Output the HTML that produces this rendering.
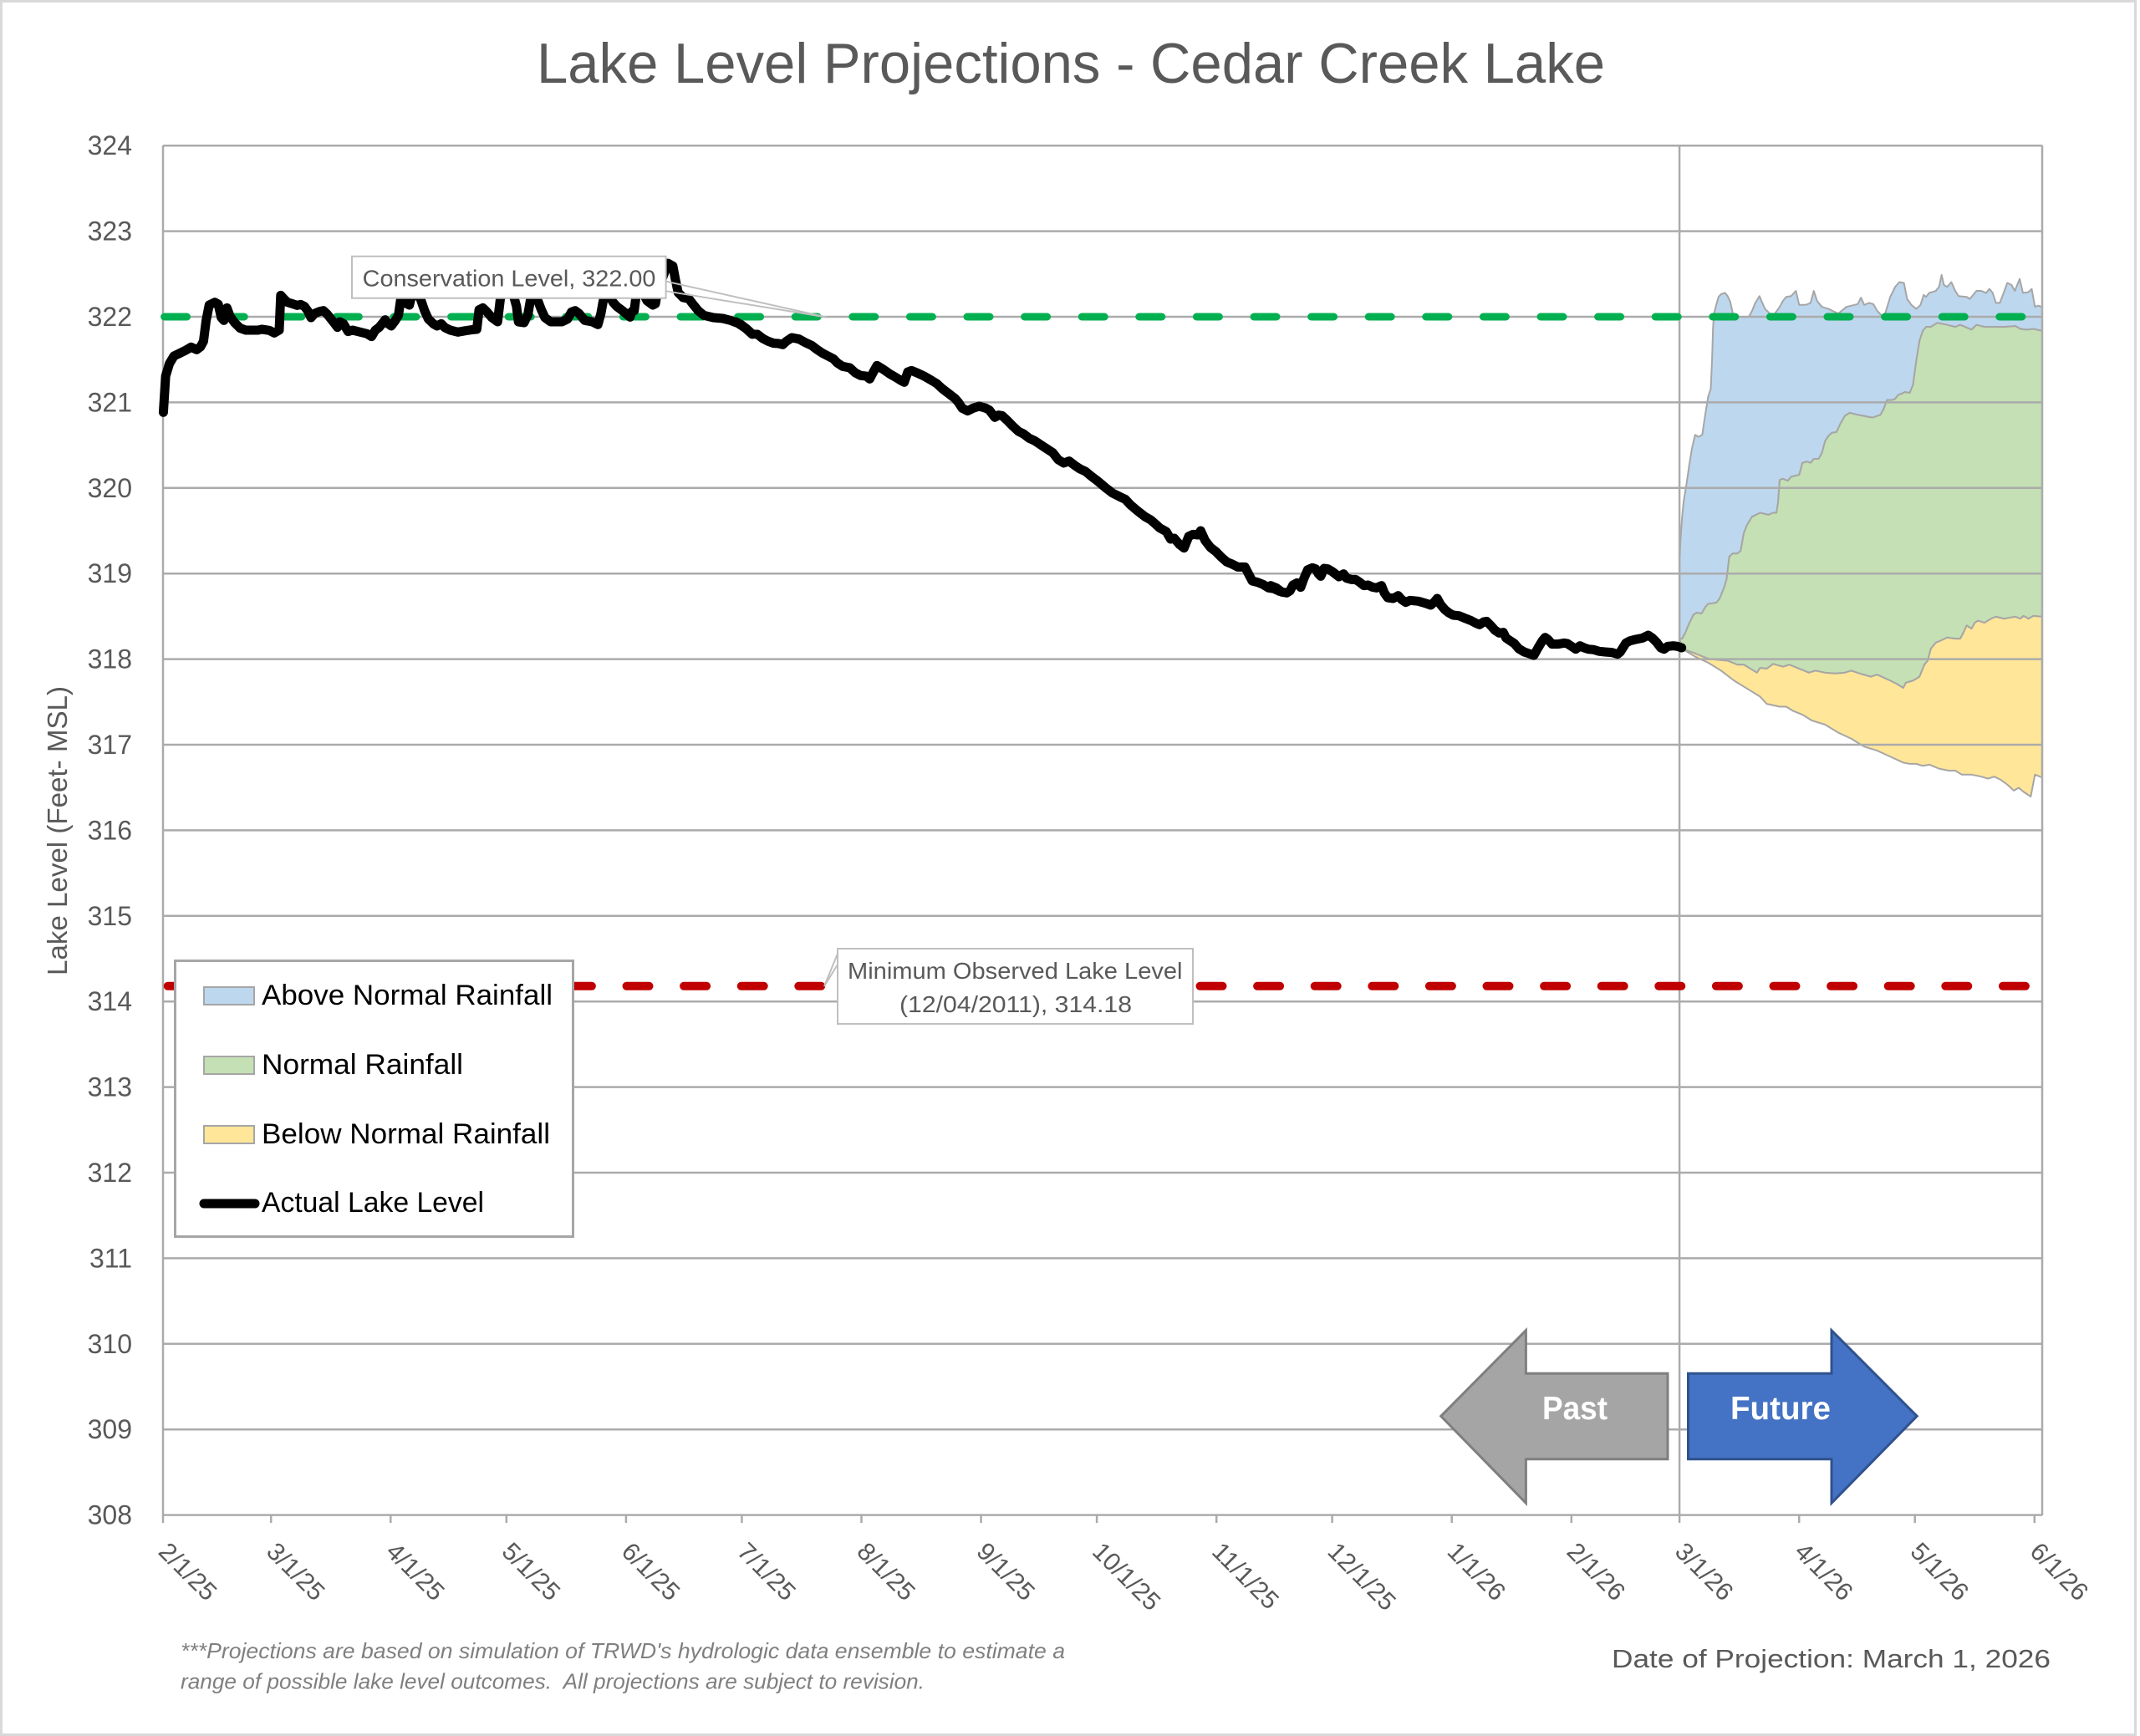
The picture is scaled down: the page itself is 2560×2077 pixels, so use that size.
<!DOCTYPE html>
<html><head><meta charset="utf-8"><style>html,body{margin:0;padding:0;background:#fff}svg{display:block}</style></head>
<body>
<svg width="2560" height="2077" viewBox="0 0 2560 2077" xmlns="http://www.w3.org/2000/svg" font-family="'Liberation Sans', Arial, sans-serif">
<rect x="0" y="0" width="2560" height="2077" fill="#fff"/>
<rect x="1.5" y="1.5" width="2553" height="2074" fill="none" stroke="#d9d9d9" stroke-width="3"/>

<!-- Title -->
<text x="642" y="99" font-size="68" fill="#595959" textLength="1278" lengthAdjust="spacingAndGlyphs">Lake Level Projections - Cedar Creek Lake</text>

<!-- Projection areas -->
<g transform="translate(1950,250) scale(0.38903,0.4783)">
<path vector-effect="non-scaling-stroke" fill="#bdd7ee" stroke="#a6a6a6" stroke-width="2" stroke-linejoin="round" d="M152,885 L155,830 160,770 165,730 175,680 182,640 190,600 200,565 210,570 222,565 230,520 240,470 248,450 252,380 255,300 258,262 265,240 272,220 280,213 292,210 300,218 308,232 315,258 320,270 365,270 375,255 385,235 398,218 405,232 415,250 430,262 445,262 460,245 470,230 480,220 495,218 510,205 520,240 540,240 555,235 565,205 575,230 590,245 610,250 640,262 665,245 690,240 700,238 710,222 720,240 735,235 748,238 760,255 775,268 785,260 800,220 815,195 828,183 842,185 852,225 865,240 880,250 893,240 903,215 910,220 920,210 940,205 950,195 958,165 965,190 975,195 988,183 1000,205 1010,218 1035,220 1045,225 1065,205 1080,205 1095,210 1105,200 1115,210 1125,235 1137,235 1145,218 1160,185 1173,190 1183,205 1198,175 1208,210 1225,208 1235,200 1245,245 1255,242 1267,245 L1267,305 1240,300 1220,302 1200,300 1185,293 1150,295 1120,295 1090,295 1065,290 1050,302 1030,295 1015,290 1000,295 975,290 945,285 935,290 925,295 910,295 900,305 890,330 880,380 870,440 860,460 845,458 835,462 825,465 815,475 805,478 790,478 780,500 770,515 745,522 720,518 700,515 675,510 660,518 645,540 635,558 620,560 610,568 600,580 590,610 580,625 565,625 555,635 545,632 530,635 520,665 495,670 485,680 470,675 460,678 455,735 450,760 440,760 425,765 400,760 375,770 360,790 350,810 340,855 330,862 315,862 305,870 297,925 290,945 275,975 265,985 240,988 232,995 220,1012 205,1010 195,1015 180,1040 170,1060 160,1075 152,1075 Z"/>
<path vector-effect="non-scaling-stroke" fill="#c5e0b4" stroke="#a6a6a6" stroke-width="2" stroke-linejoin="round" d="M152,1075 L160,1075 170,1060 180,1040 195,1015 205,1010 220,1012 232,995 240,988 265,985 275,975 290,945 297,925 305,870 315,862 330,862 340,855 350,810 360,790 375,770 400,760 425,765 440,760 450,760 455,735 460,678 470,675 485,680 495,670 520,665 530,635 545,632 555,635 565,625 580,625 590,610 600,580 610,568 620,560 635,558 645,540 660,518 675,510 700,515 720,518 745,522 770,515 780,500 790,478 805,478 815,475 825,465 835,462 845,458 860,460 870,440 880,380 890,330 900,305 910,295 925,295 935,290 945,285 975,290 1000,295 1015,290 1030,295 1050,302 1065,290 1090,295 1120,295 1150,295 1185,293 1200,300 1220,302 1240,300 1267,305 L1267,1020 1240,1018 1225,1025 1210,1018 1200,1025 1185,1020 1170,1022 1150,1025 1125,1020 1110,1025 1090,1035 1070,1030 1060,1035 1050,1050 1035,1042 1025,1060 1015,1075 1000,1075 975,1072 960,1078 940,1085 925,1100 915,1130 905,1140 890,1170 870,1180 848,1185 840,1198 820,1188 800,1180 760,1165 740,1170 710,1163 680,1155 660,1160 630,1162 600,1160 570,1155 550,1160 520,1150 490,1140 470,1145 440,1138 420,1150 400,1148 390,1160 350,1140 330,1140 300,1130 270,1128 240,1125 200,1112 160,1100 Z"/>
<path vector-effect="non-scaling-stroke" fill="#ffe699" stroke="#a6a6a6" stroke-width="2" stroke-linejoin="round" d="M160,1100 L200,1112 240,1125 270,1128 300,1130 330,1140 350,1140 390,1160 400,1148 420,1150 440,1138 470,1145 490,1140 520,1150 550,1160 570,1155 600,1160 630,1162 660,1160 680,1155 710,1163 740,1170 760,1165 800,1180 820,1188 840,1198 848,1185 870,1180 890,1170 905,1140 915,1130 925,1100 940,1085 960,1078 975,1072 1000,1075 1015,1075 1025,1060 1035,1042 1050,1050 1060,1035 1070,1030 1090,1035 1110,1025 1125,1020 1150,1025 1170,1022 1185,1020 1200,1025 1210,1018 1225,1025 1240,1018 1267,1020 L1267,1422 1245,1415 1232,1470 1210,1458 1195,1448 1180,1455 1160,1440 1140,1428 1120,1420 1100,1425 1080,1420 1050,1415 1020,1415 1000,1405 980,1405 950,1400 920,1390 900,1393 880,1388 860,1388 840,1385 800,1370 760,1355 720,1345 680,1325 640,1310 600,1290 560,1280 530,1265 500,1255 480,1245 460,1245 420,1238 400,1220 360,1200 320,1180 280,1155 240,1135 200,1120 160,1100 Z"/>
</g>

<!-- Gridlines -->
<g stroke="#ababab" stroke-width="2.5">
<line x1="195" y1="174.2" x2="2443" y2="174.2"/>
<line x1="195" y1="276.6" x2="2443" y2="276.6"/>
<line x1="195" y1="379" x2="2443" y2="379"/>
<line x1="195" y1="481.4" x2="2443" y2="481.4"/>
<line x1="195" y1="583.8" x2="2443" y2="583.8"/>
<line x1="195" y1="686.2" x2="2443" y2="686.2"/>
<line x1="195" y1="788.6" x2="2443" y2="788.6"/>
<line x1="195" y1="891" x2="2443" y2="891"/>
<line x1="195" y1="993.4" x2="2443" y2="993.4"/>
<line x1="195" y1="1095.8" x2="2443" y2="1095.8"/>
<line x1="195" y1="1198.2" x2="2443" y2="1198.2"/>
<line x1="195" y1="1300.6" x2="2443" y2="1300.6"/>
<line x1="195" y1="1403" x2="2443" y2="1403"/>
<line x1="195" y1="1505.4" x2="2443" y2="1505.4"/>
<line x1="195" y1="1607.8" x2="2443" y2="1607.8"/>
<line x1="195" y1="1710.2" x2="2443" y2="1710.2"/>
<line x1="195" y1="1812.6" x2="2443" y2="1812.6"/>
<line x1="195" y1="174" x2="195" y2="1822"/>
<line x1="2443" y1="174" x2="2443" y2="1813"/>
<line x1="2009.1" y1="174" x2="2009.1" y2="1822"/>
<line x1="324.2" y1="1812" x2="324.2" y2="1822"/>
<line x1="467.3" y1="1812" x2="467.3" y2="1822"/>
<line x1="605.8" y1="1812" x2="605.8" y2="1822"/>
<line x1="748.9" y1="1812" x2="748.9" y2="1822"/>
<line x1="887.4" y1="1812" x2="887.4" y2="1822"/>
<line x1="1030.5" y1="1812" x2="1030.5" y2="1822"/>
<line x1="1173.6" y1="1812" x2="1173.6" y2="1822"/>
<line x1="1312.1" y1="1812" x2="1312.1" y2="1822"/>
<line x1="1455.2" y1="1812" x2="1455.2" y2="1822"/>
<line x1="1593.6" y1="1812" x2="1593.6" y2="1822"/>
<line x1="1736.7" y1="1812" x2="1736.7" y2="1822"/>
<line x1="1879.8" y1="1812" x2="1879.8" y2="1822"/>
<line x1="2152.2" y1="1812" x2="2152.2" y2="1822"/>
<line x1="2290.7" y1="1812" x2="2290.7" y2="1822"/>
<line x1="2433.8" y1="1812" x2="2433.8" y2="1822"/>
</g>

<!-- Y tick labels -->
<g font-size="32" fill="#595959" text-anchor="end">
<text x="158" y="185.2">324</text>
<text x="158" y="287.6">323</text>
<text x="158" y="390">322</text>
<text x="158" y="492.4">321</text>
<text x="158" y="594.8">320</text>
<text x="158" y="697.2">319</text>
<text x="158" y="799.6">318</text>
<text x="158" y="902">317</text>
<text x="158" y="1004.4">316</text>
<text x="158" y="1106.8">315</text>
<text x="158" y="1209.2">314</text>
<text x="158" y="1311.6">313</text>
<text x="158" y="1414">312</text>
<text x="158" y="1516.4">311</text>
<text x="158" y="1618.8">310</text>
<text x="158" y="1721.2">309</text>
<text x="158" y="1823.6">308</text>
</g>

<text transform="translate(80,994) rotate(-90)" text-anchor="middle" font-size="33" fill="#595959" textLength="346" lengthAdjust="spacingAndGlyphs">Lake Level (Feet- MSL)</text>

<!-- X tick labels -->
<g font-size="30" fill="#595959">
<text transform="translate(188,1858) rotate(45)">2/1/25</text>
<text transform="translate(317.2,1858) rotate(45)">3/1/25</text>
<text transform="translate(460.3,1858) rotate(45)">4/1/25</text>
<text transform="translate(598.8,1858) rotate(45)">5/1/25</text>
<text transform="translate(741.9,1858) rotate(45)">6/1/25</text>
<text transform="translate(880.4,1858) rotate(45)">7/1/25</text>
<text transform="translate(1023.5,1858) rotate(45)">8/1/25</text>
<text transform="translate(1166.6,1858) rotate(45)">9/1/25</text>
<text transform="translate(1305.1,1858) rotate(45)">10/1/25</text>
<text transform="translate(1448.2,1858) rotate(45)">11/1/25</text>
<text transform="translate(1586.6,1858) rotate(45)">12/1/25</text>
<text transform="translate(1729.7,1858) rotate(45)">1/1/26</text>
<text transform="translate(1872.8,1858) rotate(45)">2/1/26</text>
<text transform="translate(2002.1,1858) rotate(45)">3/1/26</text>
<text transform="translate(2145.2,1858) rotate(45)">4/1/26</text>
<text transform="translate(2283.7,1858) rotate(45)">5/1/26</text>
<text transform="translate(2426.8,1858) rotate(45)">6/1/26</text>
</g>

<!-- Reference dashed lines -->
<line x1="196.6" y1="379" x2="2443" y2="379" stroke="#00b050" stroke-width="9" stroke-dasharray="27 41.6" stroke-linecap="round"/>
<line x1="200.7" y1="1179.8" x2="2443" y2="1179.8" stroke="#c00000" stroke-width="10" stroke-dasharray="27 41.6" stroke-linecap="round"/>

<!-- Actual lake level -->
<g fill="none" stroke="#000" stroke-width="11" stroke-linejoin="round" stroke-linecap="round">
<path vector-effect="non-scaling-stroke" transform="translate(190,300) scale(0.4528,0.33333)" d="M12,580 L18,450 28,405 40,378 55,368 70,358 85,346 100,355 110,345 118,325 125,250 133,195 148,185 157,192 165,240 172,250 180,205 188,235 200,258 215,278 230,285 262,285 272,282 292,286 305,295 318,285 322,160 332,175 340,185 352,190 365,196 375,193 385,200 393,215 402,240 412,225 425,218 435,215 445,228 455,245 465,262 472,275 478,255 488,262 500,290 512,285 532,292 550,298 562,308 572,285 582,275 590,262 598,248 606,262 614,270 624,252 633,232 640,165 648,120 655,190 662,195 670,150 678,130 685,160 692,175 702,215 712,245 725,262 735,270 746,262 756,276 770,285 790,292 810,287 830,283 840,282 846,212 856,205 866,218 880,240 895,255 902,175 910,130 925,140 938,165 945,200 950,255 965,258 975,230 985,150 995,160 1003,185 1010,210 1020,240 1035,255 1065,255 1080,245 1090,220 1100,215 1110,225 1125,250 1145,255 1160,265 1168,225 1178,150 1190,160 1200,185 1210,200 1225,215 1245,238 1250,218 1256,215 1262,150 1275,140 1290,180 1305,195 1312,190 1318,140 1330,100 1345,45 1358,55 1365,105 1372,150 1385,168 1400,172 1410,190 1425,215 1440,232 1465,240 1490,243 1510,250 1530,260 1550,278 1568,300"/>
<path vector-effect="non-scaling-stroke" transform="translate(880,360) scale(0.43365,0.33333)" d="M0,75 L15,85 30,100 45,118 60,120 75,135 90,145 105,152 118,153 130,157 140,145 155,132 175,137 190,148 210,160 225,175 240,188 255,198 270,208 280,222 295,235 315,240 330,258 345,268 360,270 370,280 380,255 390,232 410,248 425,262 440,273 455,285 465,292 475,255 485,250 500,258 520,270 540,285 555,297 570,315 590,335 605,350 615,365 625,385 640,395 655,385 672,378 690,385 700,392 715,418 725,410 735,412 750,430 765,450 780,468 795,478 810,493 825,502 840,515 855,528 875,545 890,570 905,582 920,575 935,590 950,603 965,612 980,628 1000,648 1020,670 1040,690 1060,703 1075,712 1090,733 1110,755 1130,775 1145,786 1160,803 1170,815 1188,828 1200,855 1210,852 1225,875 1237,887 1250,845 1262,838 1275,840 1283,825 1295,860 1310,885 1325,900 1340,920 1355,937 1370,945 1385,955 1405,955 1415,980 1425,1005 1440,1010 1455,1018 1470,1030 1485,1033 1500,1042"/>
<path vector-effect="non-scaling-stroke" transform="translate(1520,640) scale(0.33333,0.33333)" d="M0,182 L20,190 40,205 58,208 70,200 80,180 95,172 108,188 120,155 133,125 150,118 162,122 172,140 180,148 192,120 205,122 222,132 245,150 262,140 272,155 290,160 305,160 320,170 335,182 350,180 365,187 380,190 398,182 408,208 420,225 440,228 458,218 470,232 485,242 500,235 530,238 555,245 575,252 588,240 598,228 610,250 625,268 640,280 655,288 675,290 700,300 720,308 735,316 750,322 765,312 775,310 790,325 805,342 820,352 835,350 845,370 860,380 875,390 890,408 910,420 925,425 945,432 960,405 975,380 985,368 995,375 1010,392 1030,392 1055,388 1065,390 1080,400 1095,410 1110,398 1125,405 1140,410 1160,412 1180,418 1200,420 1225,422 1245,428 1255,420 1275,388 1290,380 1310,375 1335,370 1355,360 1370,370 1385,385 1400,405 1412,410 1425,400 1445,398 1460,400 1475,405"/>
</g>

<!-- Conservation annotation -->
<rect x="421" y="306.7" width="375.6" height="50" fill="#fff" stroke="#bfbfbf" stroke-width="2"/>
<line x1="797" y1="336.7" x2="988.5" y2="379.5" stroke="#bfbfbf" stroke-width="2"/>
<line x1="797" y1="348.3" x2="988.5" y2="379.5" stroke="#bfbfbf" stroke-width="2"/>
<text x="433.7" y="342.7" font-size="28" fill="#595959" textLength="350.7" lengthAdjust="spacingAndGlyphs">Conservation Level, 322.00</text>

<!-- Minimum annotation -->
<rect x="1002" y="1135" width="425" height="90" fill="#fff" stroke="#bfbfbf" stroke-width="2"/>
<line x1="1002" y1="1141" x2="986" y2="1180" stroke="#bfbfbf" stroke-width="2"/>
<line x1="1002" y1="1154" x2="986" y2="1180" stroke="#bfbfbf" stroke-width="2"/>
<text x="1014" y="1171" font-size="28" fill="#595959" textLength="400.5" lengthAdjust="spacingAndGlyphs">Minimum Observed Lake Level</text>
<text x="1076" y="1211" font-size="28" fill="#595959" textLength="278" lengthAdjust="spacingAndGlyphs">(12/04/2011), 314.18</text>

<!-- Legend -->
<rect x="209.5" y="1149.5" width="476" height="330" fill="#fff" stroke="#a6a6a6" stroke-width="3"/>
<rect x="244" y="1181" width="60" height="21" fill="#bdd7ee" stroke="#a6a6a6" stroke-width="2"/>
<rect x="244" y="1264" width="60" height="21" fill="#c5e0b4" stroke="#a6a6a6" stroke-width="2"/>
<rect x="244" y="1347" width="60" height="21" fill="#ffe699" stroke="#a6a6a6" stroke-width="2"/>
<line x1="244" y1="1440" x2="305" y2="1440" stroke="#000" stroke-width="11" stroke-linecap="round"/>
<g font-size="34" fill="#000">
<text x="313" y="1202" textLength="348" lengthAdjust="spacingAndGlyphs">Above Normal Rainfall</text>
<text x="313" y="1285" textLength="241" lengthAdjust="spacingAndGlyphs">Normal Rainfall</text>
<text x="313" y="1368" textLength="345" lengthAdjust="spacingAndGlyphs">Below Normal Rainfall</text>
<text x="313" y="1450" textLength="266" lengthAdjust="spacingAndGlyphs">Actual Lake Level</text>
</g>

<!-- Arrows -->
<polygon points="1723.7,1694.3 1825.4,1591.7 1825.4,1643.3 1995,1643.3 1995,1745.7 1825.4,1745.7 1825.4,1798.3" fill="#a5a5a5" stroke="#7f7f7f" stroke-width="3" stroke-linejoin="miter"/>
<polygon points="2019.5,1643.3 2191,1643.3 2191,1591.7 2293.2,1694.3 2191,1798.3 2191,1745.7 2019.5,1745.7" fill="#4472c4" stroke="#2f528f" stroke-width="3" stroke-linejoin="miter"/>
<text x="1845" y="1698" font-size="39" font-weight="bold" fill="#fff" textLength="78" lengthAdjust="spacingAndGlyphs">Past</text>
<text x="2070" y="1698" font-size="39" font-weight="bold" fill="#fff" textLength="120" lengthAdjust="spacingAndGlyphs">Future</text>

<!-- Footnotes -->
<text x="216" y="1984" font-size="26" font-style="italic" fill="#7f7f7f" textLength="1058" lengthAdjust="spacingAndGlyphs">***Projections are based on simulation of TRWD's hydrologic data ensemble to estimate a</text>
<text x="216" y="2020.5" font-size="26" font-style="italic" fill="#7f7f7f" textLength="890" lengthAdjust="spacingAndGlyphs" style="white-space:pre">range of possible lake level outcomes.  All projections are subject to revision.</text>
<text x="1928" y="1995" font-size="31" fill="#595959" textLength="525" lengthAdjust="spacingAndGlyphs">Date of Projection: March 1, 2026</text>
</svg>
</body></html>
